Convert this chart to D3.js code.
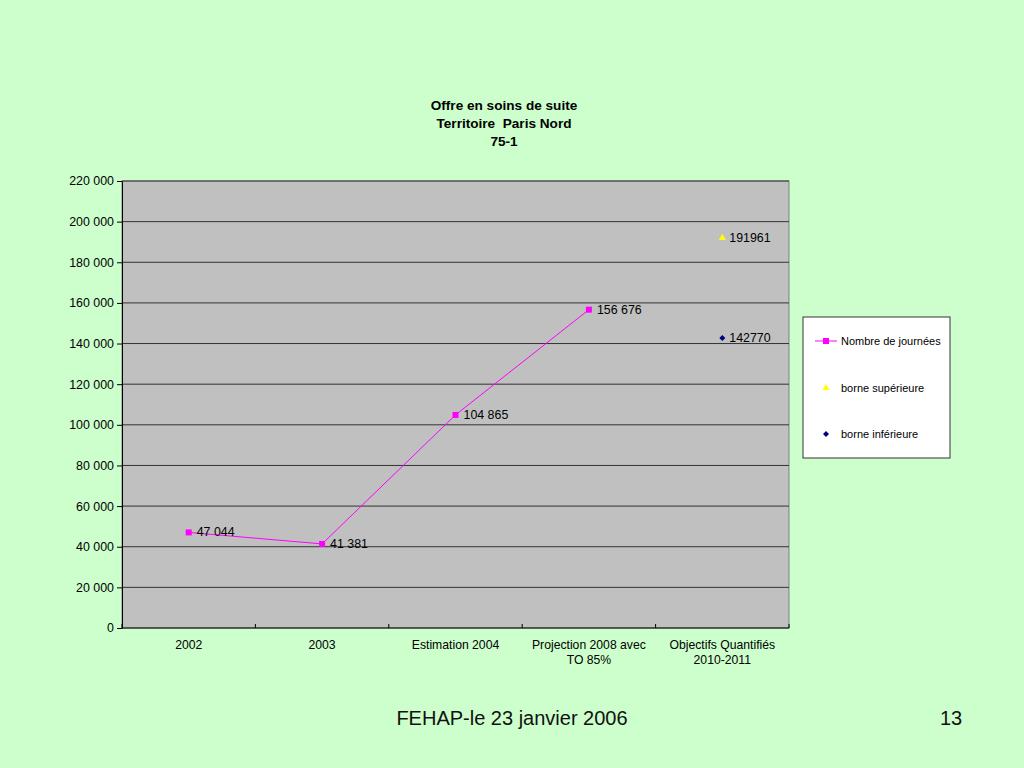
<!DOCTYPE html>
<html>
<head>
<meta charset="utf-8">
<script src="https://cdn.jsdelivr.net/npm/d3@7"></script>
<style>
  body { margin: 0; background: #ccffcc; }
  svg { display: block; font-family: "Liberation Sans", Arial, sans-serif; }
</style>
</head>
<body>
<div id="chart"></div>
<script>
// data
let categories = ['2002', '2003', 'Estimation 2004', 'Projection 2008 avec\nTO 85%', 'Objectifs Quantifiés\n2010-2011']
let journees = [47044, 41381, 104865, 156676]
let journeesLabels = ['47 044', '41 381', '104 865', '156 676']
let borneSup = [{ cat: 4, value: 191961 }]
let borneInf = [{ cat: 4, value: 142770 }]
let yTicks = [0, 20000, 40000, 60000, 80000, 100000, 120000, 140000, 160000, 180000, 200000, 220000]

let width = 1024,
  height = 768

let plot = { left: 122, right: 789, top: 181, bottom: 628 }

let svg = d3.select('#chart')
  .append('svg')
  .attr('width', width)
  .attr('height', height)

svg.append('rect').attr('width', width).attr('height', height).attr('fill', '#ccffcc')

// title
let title = ['Offre en soins de suite', 'Territoire  Paris Nord', '75-1']
svg.append('text')
  .attr('x', 504)
  .attr('y', 110)
  .attr('text-anchor', 'middle')
  .style('font-size', '13.6px')
  .style('font-weight', 'bold')
  .style('white-space', 'pre')
  .selectAll('tspan')
  .data(title)
  .enter()
  .append('tspan')
  .attr('x', 504)
  .attr('dy', (d, i) => i === 0 ? 0 : 18)
  .text(d => d)

let x = d3.scaleBand().domain(d3.range(categories.length)).range([plot.left, plot.right])
let y = d3.scaleLinear().domain([0, 220000]).range([plot.bottom, plot.top])
let cx = i => x(i) + x.bandwidth() / 2

svg.append('rect')
  .attr('x', plot.left)
  .attr('y', plot.top)
  .attr('width', plot.right - plot.left)
  .attr('height', plot.bottom - plot.top)
  .attr('fill', '#c0c0c0')
  .attr('stroke', '#808080')

// gridlines
svg.selectAll('.grid')
  .data(yTicks.filter(d => d > 0))
  .enter()
  .append('line')
  .attr('class', 'grid')
  .attr('x1', plot.left)
  .attr('x2', plot.right)
  .attr('y1', d => y(d))
  .attr('y2', d => y(d))
  .attr('stroke', '#333')
  .attr('stroke-width', 1)

let fmt = d => d3.format(',')(d).replace(/,/g, ' ')

let yAxis = svg.append('g')
  .attr('transform', `translate(${plot.left},0)`)
  .call(d3.axisLeft(y).tickValues(yTicks).tickFormat(fmt).tickSize(5).tickSizeOuter(0))
yAxis.select('.domain').attr('stroke', '#000')
yAxis.selectAll('text').style('font-size', '12.4px').style('font-family', '"Liberation Sans", Arial, sans-serif').attr('x', -8)

// x axis
let xAxis = svg.append('g')
  .attr('transform', `translate(0,${plot.bottom})`)
xAxis.append('line')
  .attr('x1', plot.left).attr('x2', plot.right)
  .attr('stroke', '#000')
xAxis.selectAll('.tick')
  .data(d3.range(categories.length + 1))
  .enter()
  .append('line')
  .attr('x1', i => plot.left + i * x.bandwidth())
  .attr('x2', i => plot.left + i * x.bandwidth())
  .attr('y1', 0)
  .attr('y2', -4)
  .attr('stroke', '#000')
xAxis.selectAll('.lbl')
  .data(categories)
  .enter()
  .append('text')
  .attr('text-anchor', 'middle')
  .style('font-size', '12.2px')
  .each(function (d, i) {
    let t = d3.select(this)
    d.split('\n').forEach((line, j) => {
      t.append('tspan').attr('x', cx(i)).attr('y', 21 + j * 15).text(line)
    })
  })

// line series
let line = d3.line().x((d, i) => cx(i)).y(d => y(d))
svg.append('path')
  .datum(journees)
  .attr('d', line)
  .attr('fill', 'none')
  .attr('stroke', '#ff00ff')
  .attr('stroke-width', 1)

svg.selectAll('.pt')
  .data(journees)
  .enter()
  .append('rect')
  .attr('x', (d, i) => cx(i) - 3)
  .attr('y', d => y(d) - 3)
  .attr('width', 6)
  .attr('height', 6)
  .attr('fill', '#ff00ff')

svg.selectAll('.ptlabel')
  .data(journees)
  .enter()
  .append('text')
  .attr('x', (d, i) => cx(i) + 8)
  .attr('y', d => y(d) + 4)
  .style('font-size', '12.4px')
  .text((d, i) => journeesLabels[i])

// borne supérieure
let tri = d3.symbol().type(d3.symbolTriangle).size(22)
svg.selectAll('.sup')
  .data(borneSup)
  .enter()
  .append('path')
  .attr('d', tri)
  .attr('transform', d => `translate(${cx(d.cat)},${y(d.value)})`)
  .attr('fill', '#ffff00')
svg.selectAll('.suplabel')
  .data(borneSup)
  .enter()
  .append('text')
  .attr('x', d => cx(d.cat) + 7)
  .attr('y', d => y(d.value) + 4)
  .style('font-size', '12.4px')
  .text(d => d.value)

// borne inférieure (square turned 45°)
let dia = d3.symbol().type(d3.symbolSquare).size(18)
svg.selectAll('.inf')
  .data(borneInf)
  .enter()
  .append('path')
  .attr('d', dia)
  .attr('transform', d => `translate(${cx(d.cat)},${y(d.value)}) rotate(45)`)
  .attr('fill', '#000080')
svg.selectAll('.inflabel')
  .data(borneInf)
  .enter()
  .append('text')
  .attr('x', d => cx(d.cat) + 7)
  .attr('y', d => y(d.value) + 4)
  .style('font-size', '12.4px')
  .text(d => d.value)

// legend
let legend = svg.append('g').attr('transform', 'translate(803,317)')
legend.append('rect')
  .attr('width', 147).attr('height', 141)
  .attr('fill', '#fff').attr('stroke', '#333')
let lg1 = legend.append('g').attr('transform', 'translate(0,24)')
lg1.append('line').attr('x1', 12).attr('x2', 34).attr('stroke', '#ff00ff')
lg1.append('rect').attr('x', 20).attr('y', -3).attr('width', 6).attr('height', 6).attr('fill', '#ff00ff')
lg1.append('text').attr('x', 38).attr('y', 4).style('font-size', '11px').text('Nombre de journées')
let lg2 = legend.append('g').attr('transform', 'translate(0,71)')
lg2.append('path').attr('d', tri).attr('transform', 'translate(23,0)').attr('fill', '#ffff00')
lg2.append('text').attr('x', 38).attr('y', 4).style('font-size', '11px').text('borne supérieure')
let lg3 = legend.append('g').attr('transform', 'translate(0,117)')
lg3.append('path').attr('d', dia).attr('transform', 'translate(23,0) rotate(45)').attr('fill', '#000080')
lg3.append('text').attr('x', 38).attr('y', 4).style('font-size', '11px').text('borne inférieure')

// footer
svg.append('text')
  .attr('x', 512)
  .attr('y', 725)
  .attr('text-anchor', 'middle')
  .style('font-size', '20px')
  .attr('fill', '#111')
  .text('FEHAP-le 23 janvier 2006')
svg.append('text')
  .attr('x', 951)
  .attr('y', 725)
  .attr('text-anchor', 'middle')
  .style('font-size', '20px')
  .attr('fill', '#111')
  .text('13')
</script>
</body>
</html>
